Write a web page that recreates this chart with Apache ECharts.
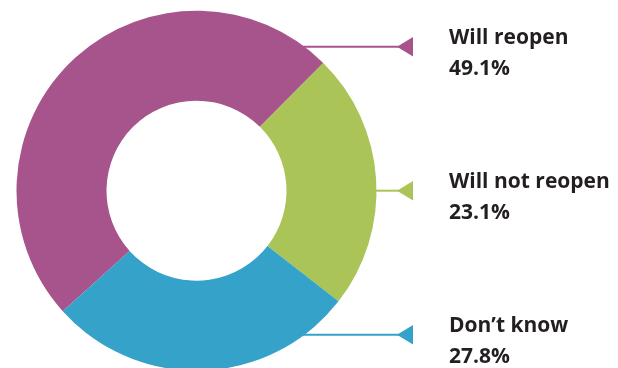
<!DOCTYPE html>
<html><head><meta charset="utf-8">
<script src="https://cdn.jsdelivr.net/npm/echarts@6/dist/echarts.min.js"></script>
<style>html,body{margin:0;padding:0;background:#fff}#c{width:618px;height:368px}</style>
</head><body><div id="c"></div>
<script>
const categories = ['Will reopen', 'Will not reopen', 'Don\u2019t know'];
const values = [49.1, 23.1, 27.8];
const colors = ['#a7538c', '#abc457', '#35a2c9'];
const leaderRows = [-0.8, 0, 0.8]; // leader height as fraction of outer radius

const CX = 196.5, CY = 190.7, R0 = 90, R1 = 180;
const TIP_X = 397, BASE_X = 413, HALF_H = 9.7, TEXT_X = 449;

function leaderY(i) { return CY + leaderRows[i] * R1; }
function edgeX(i) { const dy = leaderRows[i] * R1; return CX + Math.sqrt(R1 * R1 - dy * dy); }

const chart = echarts.init(document.getElementById('c'), null, {renderer: 'canvas'});
const graphics = categories.map((c, i) => ({
  type: 'polygon',
  shape: {points: [[TIP_X, leaderY(i)], [BASE_X, leaderY(i) - HALF_H], [BASE_X, leaderY(i) + HALF_H]]},
  style: {fill: colors[i]},
  silent: true
}));

chart.setOption({
  animation: false,
  backgroundColor: '#ffffff',
  graphic: graphics,
  series: [{
    type: 'pie',
    center: [CX, CY],
    radius: [R0, R1],
    startAngle: 222,
    clockwise: true,
    silent: true,
    avoidLabelOverlap: false,
    data: categories.map((c, i) => ({name: c, value: values[i], itemStyle: {color: colors[i]}})),
    label: {
      show: true,
      position: 'outer',
      color: '#231f20',
      formatter: p => '{n|' + p.name + '}\n{n|' + values[p.dataIndex].toFixed(1) + '%}',
      rich: {
        n: {fontFamily: 'Open Sans', fontWeight: 'bold', fontSize: 21, lineHeight: 31, color: '#231f20'}
      }
    },
    labelLine: {show: true, lineStyle: {width: 2}},
    labelLayout: function (params) {
      const i = params.dataIndex;
      const y = leaderY(i);
      return {
        x: TEXT_X,
        y: y - 24,
        align: 'left',
        verticalAlign: 'top',
        labelLinePoints: [[edgeX(i) - 2, y], [edgeX(i) - 2, y], [TIP_X + 2, y]]
      };
    }
  }]
});
</script>
</body></html>
